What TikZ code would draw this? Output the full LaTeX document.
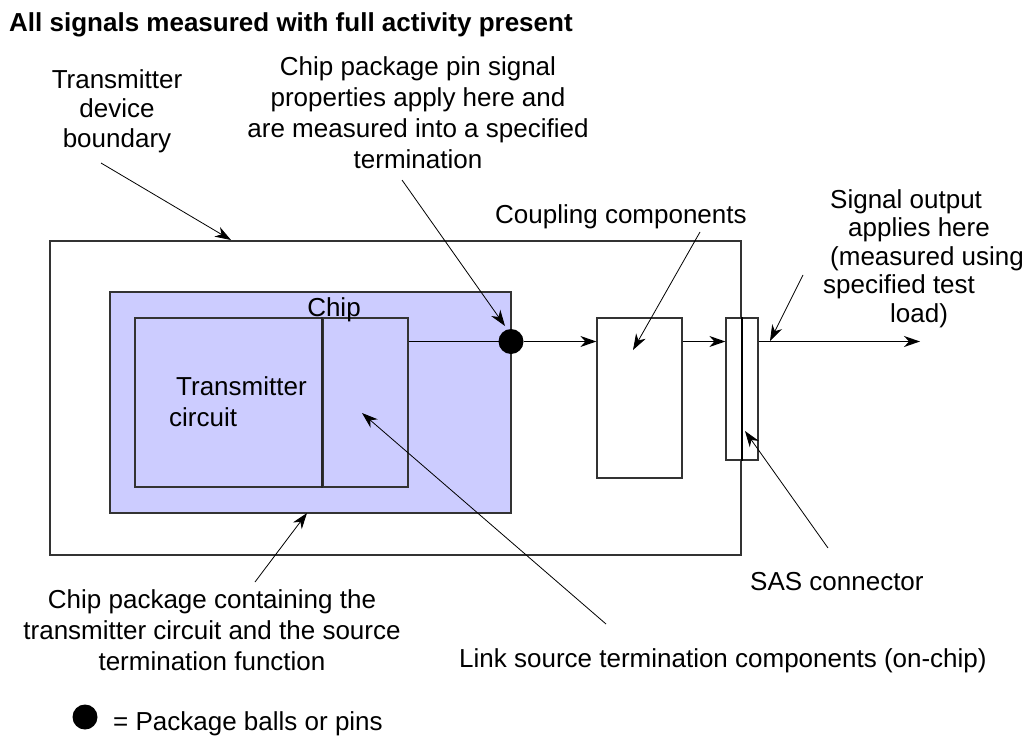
\documentclass[tikz,border=0pt]{standalone}
\usepackage{fontspec}
\setmainfont{Liberation Sans}
\usetikzlibrary{arrows.meta}
\tikzset{
  lbl/.style={inner sep=0pt, font=\fontsize{26}{30}\selectfont},
  boxline/.style={draw=black!80, line width=1.2pt, inner sep=0pt},
  ptr/.style={line width=0.8pt, -{Stealth[length=16pt,width=11pt,inset=5pt]}},
  sig/.style={line width=1.2pt, -{Stealth[length=16pt,width=11pt,inset=5pt]}},
  ballst/.style={circle, fill=black, inner sep=0pt, minimum size=25pt},
}
\begin{document}
\begin{tikzpicture}[x=1pt,y=-1pt]
\useasboundingbox (0,0) rectangle (1034,736);
% title
\node[lbl, anchor=base west, font=\fontsize{26}{30}\selectfont\bfseries] (title) at (9,31) {All signals measured with full activity present};
% boxes
\node[boxline, minimum width=691pt, minimum height=314pt] (dev) at (395.5,398) {};
\node[boxline, fill={rgb,255:red,204;green,204;blue,255}, minimum width=401pt, minimum height=221pt] (pkg) at (310.5,402.5) {};
\node[boxline, minimum width=188pt, minimum height=169pt] (tx) at (229,402.5) {};
\node[boxline, minimum width=85pt, minimum height=169pt] (term) at (365.5,402.5) {};
\draw[line width=2pt, draw=black!85] (term.north west) -- (term.south west);
\node[boxline, fill=white, minimum width=85pt, minimum height=160pt] (cpl) at (639.5,398) {};
\node[boxline, fill=white, minimum width=32pt, minimum height=142pt] (con) at (742,389) {};
\draw[line width=2pt] (con.north) -- (con.south);
\node[ballst] (ball) at (511,341.5) {};
% texts inside
\node[lbl, anchor=base] (chiplbl) at (334,316) {Chip};
\node[lbl, anchor=base west, align=left, font=\fontsize{26}{31}\selectfont] (txlbl) at (169,426) {\hspace{7pt}Transmitter\\circuit};
% signal path
\coordinate (out) at (920,341.5);
\draw[line width=1.2pt] (term.east |- ball) -- (ball.center);
\draw[sig] (ball.east) -- (ball -| cpl.west);
\draw[sig] (ball -| cpl.east) -- (ball -| con.west);
\draw[sig] (ball -| con.east) -- (out);
% labels
\node[lbl, anchor=base, align=center, font=\fontsize{26}{29.5}\selectfont] (bnd) at (117,147) {Transmitter\\device\\boundary};
\node[lbl, anchor=base, align=center, font=\fontsize{26}{31}\selectfont] (pin) at (418,168) {Chip package pin signal\\properties apply here and\\are measured into a specified\\termination};
\node[lbl, anchor=base west] (cpllbl) at (495,223) {Coupling components};
\node[lbl, anchor=base west, align=left, font=\fontsize{26}{28.5}\selectfont] (sigout) at (823,322) {\hspace{7pt}Signal output\\\hspace{25pt}applies here\\\hspace{7pt}(measured using\\specified test\\\hspace{67pt}load)};
\node[lbl, anchor=base west] (sas) at (750,590) {SAS connector};
\node[lbl, anchor=base, align=center, font=\fontsize{26}{31}\selectfont] (pkglbl) at (212,670) {Chip package containing the\\transmitter circuit and the source\\termination function};
\node[lbl, anchor=base west] (link) at (459,667) {Link source termination components (on-chip)};
\node[ballst] (legball) at (85,717) {};
\node[lbl, anchor=base west] (legtxt) at (113,730) {= Package balls or pins};
% pointer coordinates
\coordinate (bndS) at (101,163);
\coordinate (bndE) at (231,240);
\coordinate (pinS) at (402,180);
\coordinate (pinE) at (505,326);
\coordinate (cplS) at (700,232);
\coordinate (cplE) at (633,350);
\coordinate (sigS) at (803,275);
\coordinate (sigE) at (770,341);
\coordinate (sasS) at (828,548);
\coordinate (sasE) at (745,431);
\coordinate (linkS) at (606,624);
\coordinate (linkE) at (362,413);
\coordinate (pkgS) at (255,582);
\coordinate (pkgE) at (307,513);
\draw[ptr] (bndS) -- (bndE);
\draw[ptr] (pinS) -- (pinE);
\draw[ptr] (cplS) -- (cplE);
\draw[ptr] (sigS) -- (sigE);
\draw[ptr] (sasS) -- (sasE);
\draw[ptr] (linkS) -- (linkE);
\draw[ptr] (pkgS) -- (pkgE);
\end{tikzpicture}
\end{document}
